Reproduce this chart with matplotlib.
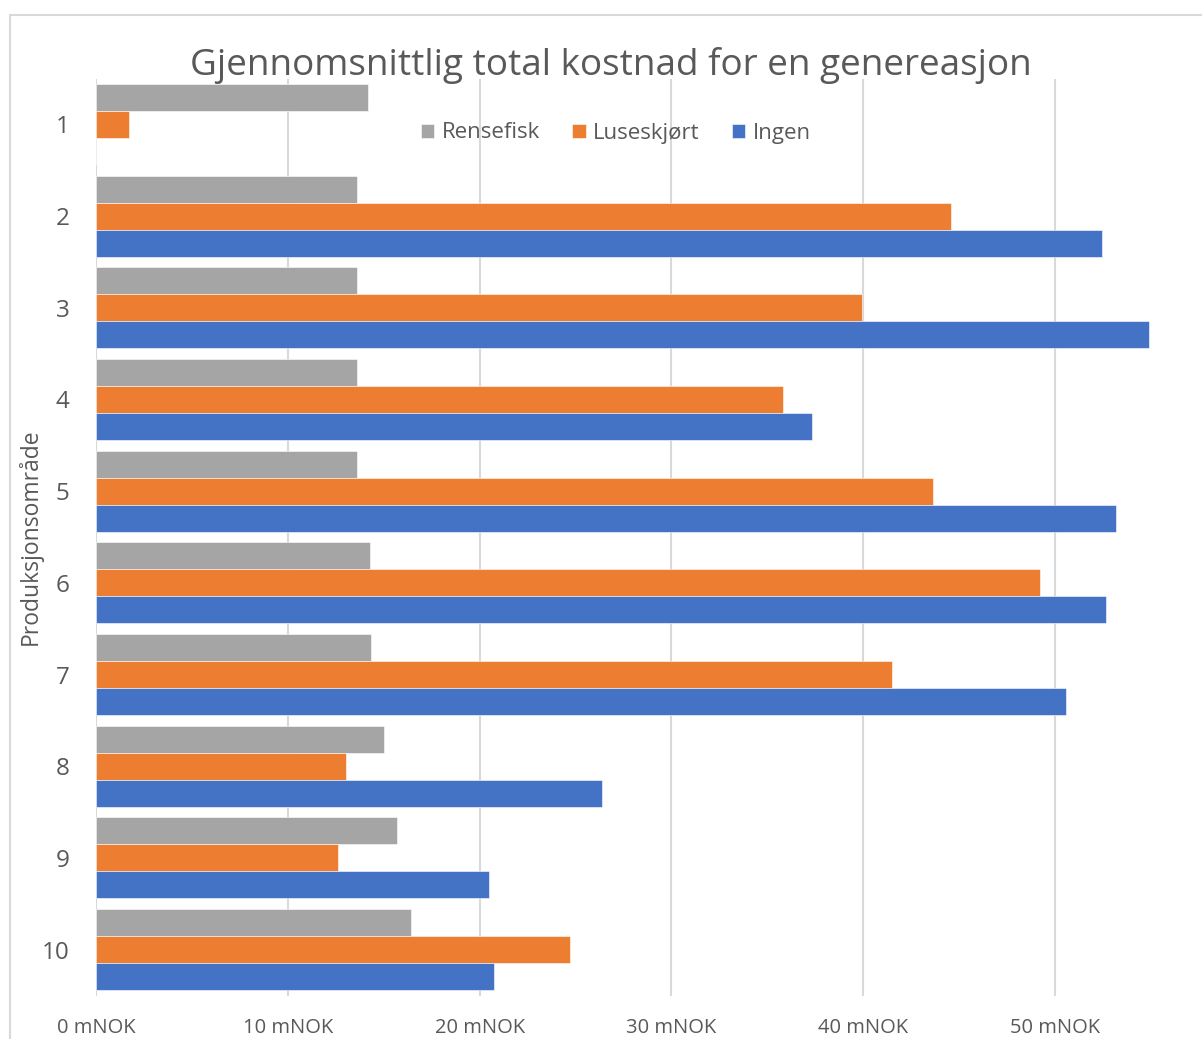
import matplotlib
matplotlib.use("Agg")
import matplotlib.pyplot as plt
from matplotlib.patches import Rectangle
import numpy as np

# Data
omrader = ["1", "2", "3", "4", "5", "6", "7", "8", "9", "10"]
serier = ["Rensefisk", "Luseskjørt", "Ingen"]
rensefisk = [14.2, 13.6, 13.6, 13.6, 13.6, 14.3, 14.35, 15.0, 15.7, 16.4]
luseskjort = [1.7, 44.6, 39.95, 35.8, 43.65, 49.2, 41.5, 13.05, 12.6, 24.7]
ingen = [0.0, 52.45, 54.9, 37.35, 53.2, 52.65, 50.55, 26.4, 20.5, 20.75]
xticks = [0, 10, 20, 30, 40, 50]
xticklabels = ["0 mNOK", "10 mNOK", "20 mNOK", "30 mNOK", "40 mNOK", "50 mNOK"]

farger = ["#A5A5A5", "#ED7D31", "#4472C4"]
tekstfarge = "#595959"
gridfarge = "#D9D9D9"

plt.rcParams["font.family"] = ["Open Sans", "DejaVu Sans"]

W, H = 1202, 1039
fig = plt.figure(figsize=(W / 100, H / 100), dpi=100)

# chart border (extends past the right and bottom edges)
fig.patches.append(Rectangle((10 / W, -0.1), 1.2, (H - 15) / H + 0.1,
                             transform=fig.transFigure, fill=False,
                             edgecolor=gridfarge, linewidth=1.5))

left, right = 96, 1246.8
top, bottom = 78.5, 995.5
ax = fig.add_axes([left / W, (H - bottom) / H, (right - left) / W, (bottom - top) / H])

y = np.arange(len(omrader))
h = 0.2945
for k, (vals, farge, navn) in enumerate(zip([rensefisk, luseskjort, ingen], farger, serier)):
    ax.barh(y + (k - 1) * h, vals, height=h, color=farge, label=navn, zorder=3,
            edgecolor="white", linewidth=0.4)

ax.set_xlim(0, 60)
ax.set_ylim(len(omrader) - 0.5, -0.5)
ax.set_xticks(xticks)
ax.set_xticklabels(xticklabels)
ax.set_yticks(y)
ax.set_yticklabels(omrader)
ax.tick_params(axis="x", length=0, pad=16, labelsize=14.5, labelcolor=tekstfarge)
ax.tick_params(axis="y", length=0, pad=19, labelsize=17.5, labelcolor=tekstfarge)
ax.grid(axis="x", color=gridfarge, linewidth=1.5, zorder=0)
for s in ax.spines.values():
    s.set_visible(False)
ax.set_facecolor("none")

ax.set_ylabel("Produksjonsområde", fontsize=16.5, color=tekstfarge)
ax.yaxis.set_label_coords((43 - left) / (right - left), 0.5)

fig.text(611 / W, (H - 66) / H, "Gjennomsnittlig total kostnad for en genereasjon",
         ha="center", va="center", fontsize=26.6, color=tekstfarge)

fig.legend(loc="center", bbox_to_anchor=(616 / W, (H - 133) / H), ncol=3,
           frameon=False, fontsize=16, handlelength=0.6, handleheight=0.6,
           handletextpad=0.35, columnspacing=1.45, labelcolor=tekstfarge)

fig.savefig("out.png", dpi=100)
